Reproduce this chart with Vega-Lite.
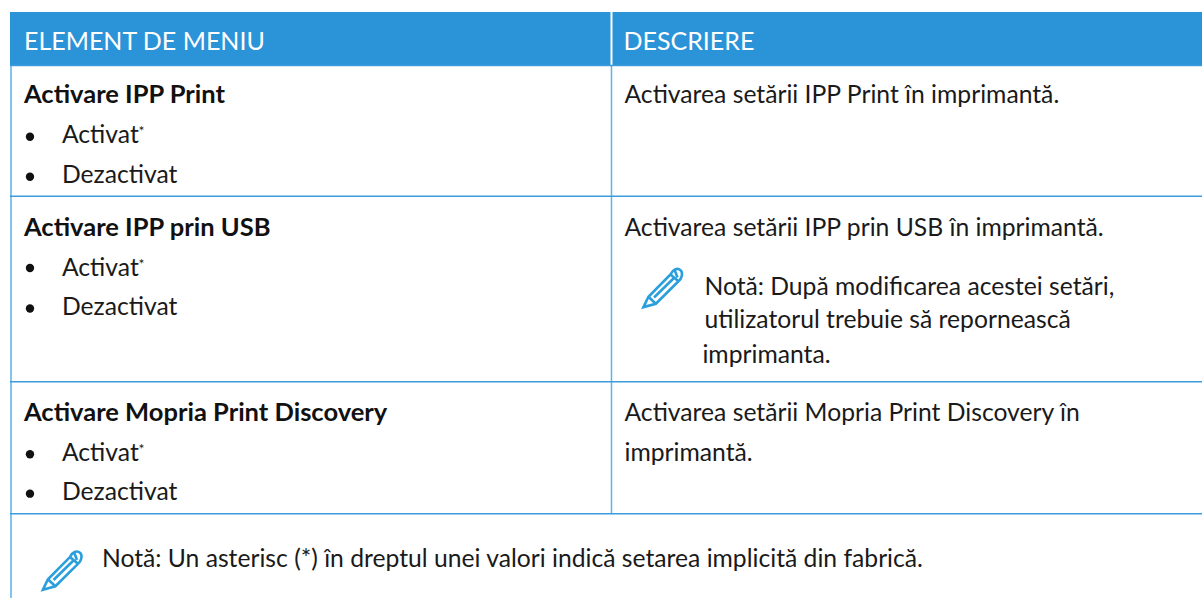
{"$schema":"https://vega.github.io/schema/vega-lite/v6.json","width":1203,"height":599,"autosize":{"type":"fit","contains":"padding"},"padding":0,"background":"#ffffff","config":{"view":{"stroke":null}},
"datasets":{
"header":[{"x":10,"x2":611,"y":12,"y2":65},{"x":613,"x2":1203,"y":12,"y2":65}],
"vlines":[{"x":11,"y":65,"y2":599},{"x":612,"y":65,"y2":515}],
"hlines":[{"x":10,"x2":1203,"y":65.5},{"x":10,"x2":1203,"y":196.5},{"x":10,"x2":1203,"y":382.5},{"x":10,"x2":1203,"y":514.5}],
"head":[{"x":24,"y":50,"t":"ELEMENT DE MENIU"},{"x":624,"y":50,"t":"DESCRIERE"}],
"bold":[{"x":24,"y":103.5,"t":"Activare IPP Print"},{"x":24,"y":236,"t":"Activare IPP prin USB"},{"x":24,"y":422,"t":"Activare Mopria Print Discovery"}],
"body":[{"x":62,"y":143.5,"t":"Activat"},{"x":62,"y":183,"t":"Dezactivat"},{"x":62,"y":276,"t":"Activat"},{"x":62,"y":315.5,"t":"Dezactivat"},{"x":62,"y":462,"t":"Activat"},{"x":62,"y":501,"t":"Dezactivat"},
{"x":625,"y":103.5,"t":"Activarea setării IPP Print în imprimantă."},{"x":625,"y":236,"t":"Activarea setării IPP prin USB în imprimantă."},{"x":705,"y":295,"t":"Notă: După modificarea acestei setări,"},{"x":705,"y":329,"t":"utilizatorul trebuie să repornească"},{"x":703,"y":364,"t":"imprimanta."},{"x":625,"y":422,"t":"Activarea setării Mopria Print Discovery în"},{"x":625,"y":462,"t":"imprimantă."},{"x":102,"y":568,"t":"Notă: Un asterisc (*) în dreptul unei valori indică setarea implicită din fabrică."}],
"star":[{"x":138.5,"y":136.5,"t":"*"},{"x":138.5,"y":269,"t":"*"},{"x":138.5,"y":455,"t":"*"}],
"bullets":[{"x":30,"y":137},{"x":30,"y":177},{"x":30,"y":268.5},{"x":30,"y":309},{"x":30,"y":455},{"x":30,"y":494.5}],
"pens":[{"x":663,"y":289},{"x":62,"y":572}]
},
"layer":[
{"data":{"name":"header"},"mark":{"type":"rect","color":"#2b93d8"},"encoding":{"x":{"field":"x","type":"quantitative","scale":{"domain":[0,1203],"nice":false,"zero":false},"axis":null},"x2":{"field":"x2"},"y":{"field":"y","type":"quantitative","scale":{"domain":[599,0],"nice":false,"zero":false},"axis":null},"y2":{"field":"y2"}}},
{"data":{"name":"vlines"},"mark":{"type":"rule","color":"#5db2e6","strokeWidth":1.5},"encoding":{"x":{"field":"x","type":"quantitative"},"y":{"field":"y","type":"quantitative"},"y2":{"field":"y2"}}},
{"data":{"name":"hlines"},"mark":{"type":"rule","color":"#3c9cdc","strokeWidth":1.5},"encoding":{"x":{"field":"x","type":"quantitative"},"x2":{"field":"x2"},"y":{"field":"y","type":"quantitative"}}},
{"data":{"name":"head"},"mark":{"type":"text","align":"left","baseline":"alphabetic","font":"Lato","fontSize":25,"color":"#ffffff"},"encoding":{"x":{"field":"x","type":"quantitative"},"y":{"field":"y","type":"quantitative"},"text":{"field":"t"}}},
{"data":{"name":"bold"},"mark":{"type":"text","align":"left","baseline":"alphabetic","font":"Lato","fontSize":25.5,"fontWeight":"bold","color":"#111111"},"encoding":{"x":{"field":"x","type":"quantitative"},"y":{"field":"y","type":"quantitative"},"text":{"field":"t"}}},
{"data":{"name":"body"},"mark":{"type":"text","align":"left","baseline":"alphabetic","font":"Lato","fontSize":24.7,"color":"#1a1a1a"},"encoding":{"x":{"field":"x","type":"quantitative"},"y":{"field":"y","type":"quantitative"},"text":{"field":"t"}}},
{"data":{"name":"star"},"mark":{"type":"text","align":"left","baseline":"alphabetic","font":"Lato","fontSize":14,"color":"#1a1a1a"},"encoding":{"x":{"field":"x","type":"quantitative"},"y":{"field":"y","type":"quantitative"},"text":{"field":"t"}}},
{"data":{"name":"bullets"},"mark":{"type":"point","shape":"circle","filled":true,"size":70,"color":"#111111","opacity":1},"encoding":{"x":{"field":"x","type":"quantitative"},"y":{"field":"y","type":"quantitative"}}},
{"data":{"name":"pens"},"mark":{"type":"point","shape":"M-0.95 0.93L-0.7 0.41L0.4 -0.7C0.5 -0.95 0.75 -1.05 0.9 -0.92C1.05 -0.78 0.97 -0.5 0.8 -0.36L-0.33 0.76ZM-0.7 0.41L-0.33 0.76M0.4 -0.7L0.8 -0.36M-0.42 0.45L0.6 -0.55M0.62 -0.9L0.75 -0.55","filled":false,"size":1600,"stroke":"#2b9fdc","strokeWidth":2.6,"opacity":1},"encoding":{"x":{"field":"x","type":"quantitative"},"y":{"field":"y","type":"quantitative"}}}
]}
